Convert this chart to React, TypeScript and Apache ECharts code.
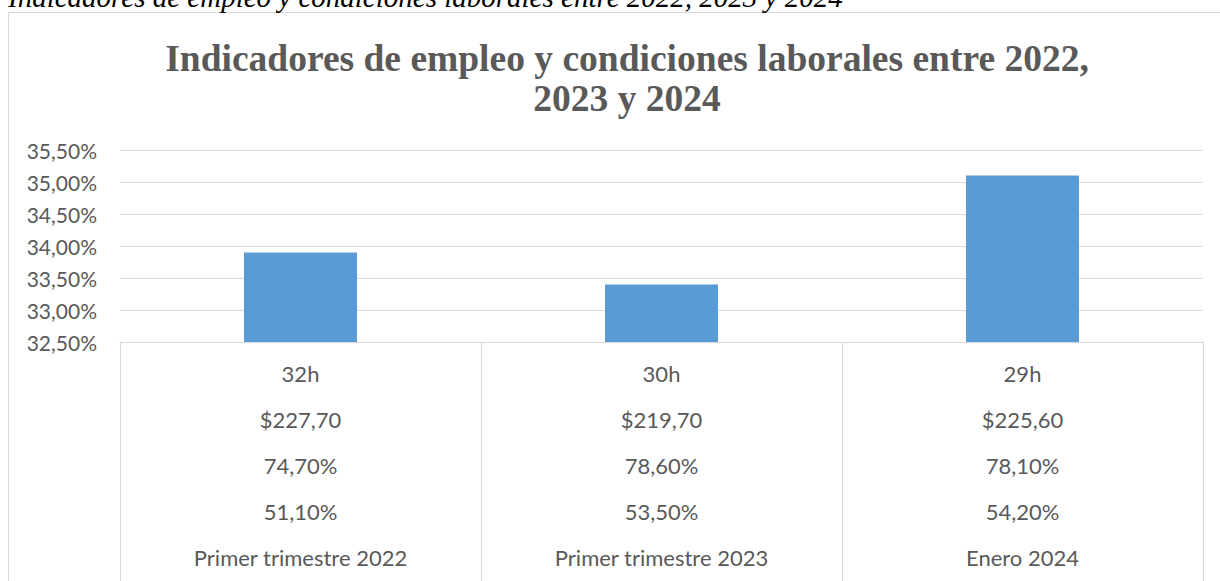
import React, { useEffect, useRef } from "react";
import * as echarts from "echarts";

const caption = "Indicadores de empleo y condiciones laborales entre 2022, 2023 y 2024";
const titleText = "Indicadores de empleo y condiciones laborales entre 2022,\n2023 y 2024";
const periodos = ["Primer trimestre 2022", "Primer trimestre 2023", "Enero 2024"];
const valores = [33.9, 33.4, 35.1];
const horas = ["32h", "30h", "29h"];
const ingresos = ["$227,70", "$219,70", "$225,60"];
const tasaA = ["74,70%", "78,60%", "78,10%"];
const tasaB = ["51,10%", "53,50%", "54,20%"];
const yMin = 32.5;
const yMax = 35.5;
const yStep = 0.5;

const GRAY = "#595959";
const LINE = "#d9d9d9";
const FONT = "Lato, 'Noto Sans', sans-serif";
const SERIF = "'Liberation Serif', 'Times New Roman', serif";
const ROW = 46;
const MARGIN = 19;
const FS = 22;

export default function App() {
  const ref = useRef<HTMLDivElement>(null);
  useEffect(() => {
    if (!ref.current) return;
    const chart = echarts.init(ref.current, null, { renderer: "svg" });
    const rowAxis = (data: string[], idx: number) => ({
      type: "category",
      data,
      position: "bottom",
      offset: idx * ROW,
      axisLine: { show: false },
      axisTick: { show: false },
      axisLabel: {
        margin: MARGIN,
        color: GRAY,
        fontSize: FS,
        fontFamily: FONT,
        lineHeight: 24,
        interval: 0,
      },
    });
    chart.setOption({
      animation: false,
      backgroundColor: "#ffffff",
      title: {
        text: titleText,
        left: 622,
        top: 33,
        textAlign: "center",
        textStyle: {
          fontFamily: SERIF,
          fontWeight: "bold",
          fontSize: 37.5,
          lineHeight: 40,
          color: GRAY,
        },
      },
      graphic: [
        {
          type: "rect",
          shape: { x: 8.5, y: 12.5, width: 1240, height: 620 },
          style: { fill: "none", stroke: LINE, lineWidth: 1 },
          silent: true,
          z: -1,
        },
        {
          type: "text",
          x: 8,
          y: -3,
          style: {
            text: caption,
            fontFamily: SERIF,
            fontStyle: "italic",
            fontSize: 29,
            fill: "#000000",
            textVerticalAlign: "middle",
          },
        },
      ],
      grid: {
        left: 120,
        right: 17,
        top: 150,
        bottom: 239,
        containLabel: false,
        outerBoundsMode: "none",
      },
      xAxis: [
        {
          type: "category",
          data: periodos,
          position: "bottom",
          axisLine: { show: true, lineStyle: { color: LINE, width: 1 } },
          axisTick: { show: true, length: 240, lineStyle: { color: LINE, width: 1 } },
          axisLabel: {
            margin: MARGIN + 4 * ROW,
            color: GRAY,
            fontSize: FS,
            fontFamily: FONT,
            lineHeight: 24,
            interval: 0,
          },
        },
        rowAxis(horas, 0),
        rowAxis(ingresos, 1),
        rowAxis(tasaA, 2),
        rowAxis(tasaB, 3),
      ],
      yAxis: {
        type: "value",
        min: yMin,
        max: yMax,
        interval: yStep,
        axisLine: { show: false },
        axisTick: { show: false },
        splitLine: { lineStyle: { color: LINE, width: 1 } },
        axisLabel: {
          margin: 23,
          color: GRAY,
          fontSize: 21,
          fontFamily: FONT,
          formatter: (v: number) => v.toFixed(2).replace(".", ",") + "%",
        },
      },
      series: [
        {
          type: "bar",
          xAxisIndex: 0,
          data: valores,
          barWidth: 113,
          itemStyle: { color: "#5b9bd5" },
        },
      ],
    });
    return () => chart.dispose();
  }, []);
  return (
    <div
      ref={ref}
      style={{ position: "absolute", left: 0, top: 0, width: 1220, height: 581 }}
    />
  );
}
